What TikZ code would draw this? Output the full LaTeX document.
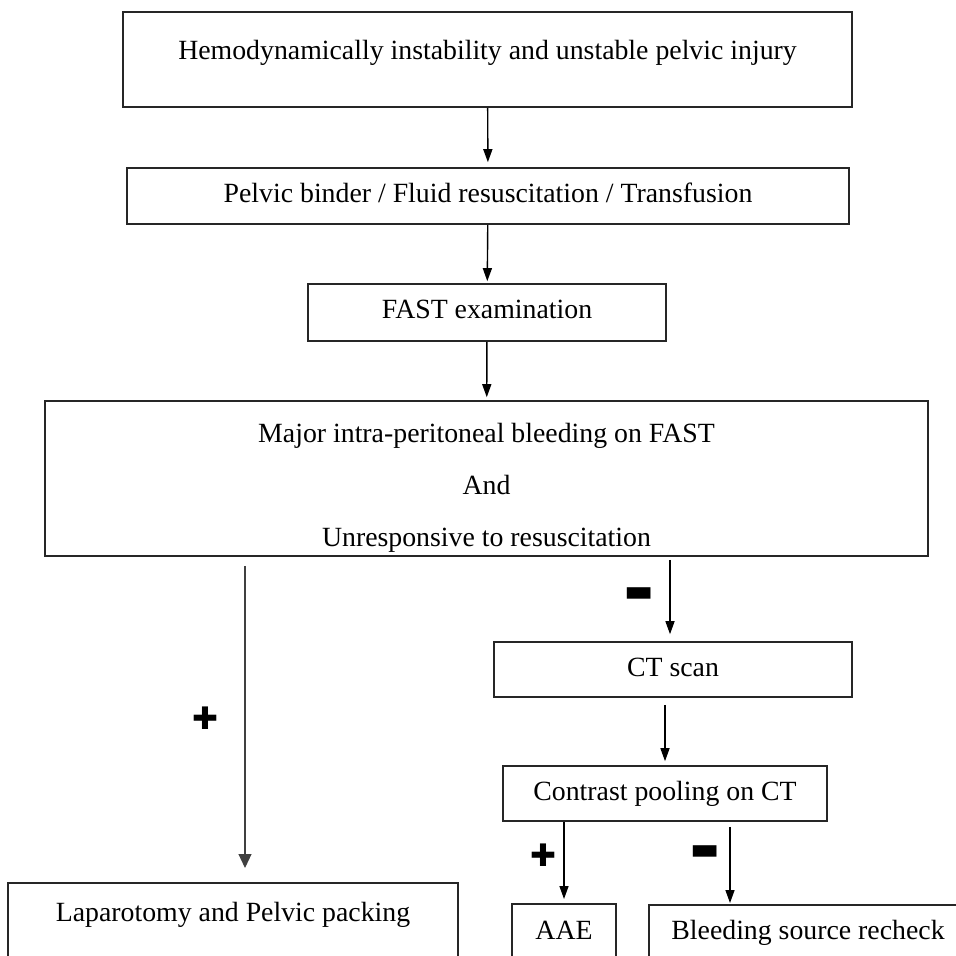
\documentclass[tikz,border=0pt]{standalone}
\usepackage{fontspec}
\setmainfont{Liberation Serif}
\newfontfamily\signfont{DejaVu Sans}
\usetikzlibrary{arrows.meta,calc}

\begin{document}
\begin{tikzpicture}[
    x=0.5pt, y=-0.5pt,
    % Box styles
    box/.style={draw=black!85, line width=0.8pt, inner sep=0pt, text height=9.5pt, text depth=3pt,
        font=\fontsize{13.9pt}{16.6pt}\selectfont},
    bigbox/.style={draw=black!85, line width=0.8pt, inner sep=0pt, align=center,
        font=\fontsize{13.9pt}{16.6pt}\selectfont},
    cutbox/.style={box, anchor=north, inner ysep=0pt, text depth=30pt},
    % Arrow styles
    arr/.style={-{Triangle[width=4.5pt,length=6.5pt]}, line width=0.7pt},
    longarr/.style={-{Triangle[width=6.5pt,length=7pt]}, line width=0.55pt, draw=black!75},
    % Sign labels
    sign/.style={font=\signfont\fontsize{15.5pt}{15.5pt}\selectfont, inner sep=0pt},
]

% Page frame
\useasboundingbox (0,0) rectangle (956,956);
\clip (0,0) rectangle (956,956);

% Main column
\node[box, minimum width=364.5pt, minimum height=47.5pt, text depth=9pt] (top) at (487.5,59.5)
    {Hemodynamically instability and unstable pelvic injury};
\node[box, minimum width=361pt, minimum height=28pt] (binder) at (488,196)
    {Pelvic binder / Fluid resuscitation / Transfusion};
\node[box, minimum width=179pt, minimum height=28.5pt] (fast) at (487,312.5) {FAST examination};
\node[bigbox, minimum width=441.5pt, minimum height=77.5pt] (major) at (486.5,478.5)
    {\rule{0pt}{18.5pt}Major intra-peritoneal bleeding on FAST\\[9.4pt]And\\[9.4pt]Unresponsive to resuscitation};

% Right branch
\node[box, minimum width=179pt, minimum height=27.5pt] (ct) at (673,669.5) {CT scan};
\node[box, minimum width=162pt, minimum height=27.5pt] (contrast) at (665,793.5) {Contrast pooling on CT};

% Bottom boxes (cut by the page edge)
\node[cutbox, minimum width=225pt, text height=19.5pt] (lap) at (233,882) {Laparotomy and Pelvic packing};
\node[cutbox, minimum width=52pt, text height=18pt] (aae) at (564,903) {AAE};
\node[cutbox, minimum width=159pt, text height=17.5pt] (bleed) at (808,904) {Bleeding source recheck};

% Arrows down the main column
\draw[arr, shorten >=2.5pt] (top) -- (binder);
\draw[arr, shorten >=1pt] (binder) -- (fast);
\draw[arr, shorten >=1.5pt] (fast) -- (major);

% Branches
\coordinate (lapin) at ($(major.south -| lap.north)+(6pt,-4.5pt)$);
\coordinate (ctin) at ($(major.south -| ct.north)+(-1.5pt,-1.5pt)$);
\coordinate (bleedin) at ($(contrast.south)+(32.5pt,-2.5pt)$);
\draw[longarr, shorten >=7pt] (lapin) -- (lapin |- lap.north);
\draw[arr, shorten >=3.5pt] (ctin) -- (ctin |- ct.north);
\draw[arr, shorten <=3.5pt, shorten >=2pt] (ct.south -| contrast.north) -- (contrast.north);
\draw[arr, shorten >=2pt] (contrast.south -| aae.north) -- (aae.north);
\draw[arr, shorten >=0.5pt] (bleedin) -- (bleedin |- bleed.north);

% Signs
\node[sign] (pluslap) at (205,718) {✚};
\node[sign] (minusct) at (639,595) {▬};
\node[sign] (plusaae) at (543,855) {✚};
\node[sign] (minusbleed) at (705,853) {▬};

\end{tikzpicture}
\end{document}
